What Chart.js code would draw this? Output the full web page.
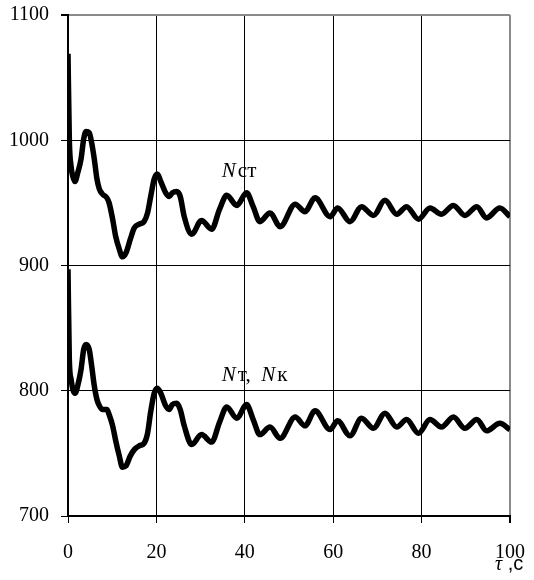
<!DOCTYPE html>
<html><head><meta charset="utf-8">
<script src="https://cdn.jsdelivr.net/npm/chart.js@4/dist/chart.umd.min.js"></script>
<style>html,body{margin:0;padding:0;background:#fff}#wrap{width:534px;height:580px}</style>
</head><body><div id="wrap"><canvas id="c" width="534" height="580"></canvas></div>
<script>
// time, s
const tau = [0, 0.3, 0.7, 1.1, 1.6, 2.2, 2.95, 3.55, 4.1, 4.8, 5.35, 5.95, 6.55, 7.1, 7.8, 8.8, 9.3, 10.1, 10.8, 11.6, 12.3, 13.1, 14.1, 15.0, 16.1, 17.2, 18.0, 18.7, 19.5, 20.2, 21.0, 22.1, 22.9, 23.6, 24.6, 25.4, 26.3, 28.0, 30.2, 32.5, 34.3, 35.9, 38.2, 40.4, 41.9, 43.4, 45.7, 48.0, 51.4, 53.6, 55.9, 59.3, 61.0, 63.8, 66.4, 69.1, 71.7, 74.4, 76.6, 79.3, 81.9, 84.5, 87.2, 89.8, 92.5, 94.7, 97.7, 100];
// N ст
const nSt = [1069, 1001, 979, 971, 967, 974, 985, 1001, 1007, 1006, 998, 985, 969, 961, 957, 954, 950, 937, 923, 913, 907, 910, 921, 930, 933, 935, 942, 955, 969, 973, 967, 958, 955, 958, 959, 955, 939, 925, 936, 929, 945, 956, 948, 958, 947, 935, 942, 931, 949, 943, 954, 939, 946, 935, 947, 940, 952, 941, 947, 937, 946, 941, 948, 940, 947, 938, 946, 939];
// N т, N к
const nTK = [897, 825, 809, 801, 798, 804, 817, 833, 837, 833, 820, 804, 793, 788, 785, 785, 781, 772, 760, 748, 739, 740, 748, 753, 756, 758, 766, 783, 798, 802, 798, 788, 785, 789, 790, 785, 772, 757, 765, 759, 775, 787, 778, 789, 777, 765, 771, 762, 779, 772, 784, 769, 776, 764, 778, 770, 782, 771, 777, 766, 777, 771, 779, 770, 777, 768, 774, 769];
const xTicks = [0, 20, 40, 60, 80, 100];
const yTicks = [700, 800, 900, 1000, 1100];
const curveLabels = [
  {tau: 34.8, value: 971, parts: [['N', 'italic'], ['ст', 'normal']]},
  {tau: 34.8, value: 807.5, parts: [['N', 'italic'], ['т,  ', 'normal'], ['N', 'italic'], ['к', 'normal']]}
];
const axisTitle = [['τ', 'italic 20px "Liberation Serif"'], [' ,с', '20px "Liberation Sans"']];

const serif = '"Liberation Serif", "Times New Roman", serif';

const textPlugin = {
  id: 'texts',
  afterDatasetsDraw(chart) {
    const ctx = chart.ctx, xs = chart.scales.x, ys = chart.scales.y;
    ctx.save();
    ctx.fillStyle = '#000';
    ctx.textBaseline = 'alphabetic';
    ctx.textAlign = 'left';
    curveLabels.forEach(l => {
      let x = xs.getPixelForValue(l.tau);
      const y = ys.getPixelForValue(l.value);
      l.parts.forEach(([t, st]) => {
        ctx.font = (st === 'italic' ? 'italic ' : '') + '21px ' + serif;
        ctx.fillText(t, x, y);
        x += ctx.measureText(t).width + (st === 'italic' ? 2 : 0);
      });
    });
    // axis title
    let x = xs.getPixelForValue(100) - 15;
    const y = chart.height - 10;
    axisTitle.forEach(([t, f]) => {
      ctx.font = f;
      ctx.fillText(t, x, y);
      x += ctx.measureText(t).width;
    });
    ctx.restore();
  }
};

new Chart(document.getElementById('c'), {
  type: 'line',
  data: {
    datasets: [
      {label: 'Nст', data: tau.map((t, i) => ({x: t, y: nSt[i]})), borderColor: '#000', borderWidth: 5.5, pointRadius: 0, cubicInterpolationMode: 'monotone', fill: false},
      {label: 'Nт, Nк', data: tau.map((t, i) => ({x: t, y: nTK[i]})), borderColor: '#000', borderWidth: 5.5, pointRadius: 0, cubicInterpolationMode: 'monotone', fill: false}
    ]
  },
  options: {
    responsive: false,
    animation: false,
    devicePixelRatio: 1,
    layout: {padding: {left: 0, top: 15, right: 24, bottom: 0}},
    plugins: {legend: {display: false}, tooltip: {enabled: false}},
    scales: {
      x: {
        type: 'linear', min: 0, max: 100,
        afterBuildTicks: s => { s.ticks = xTicks.map(v => ({value: v})); },
        afterFit: s => { s.height = 64; s.paddingLeft = 0; s.paddingRight = 0; },
        grid: {
          color: c => (c.tick && c.tick.value === 100) ? '#8a8a8a' : '#000',
          lineWidth: c => (c.tick && c.tick.value === 100) ? 2 : 1,
          tickColor: '#000', tickLength: 7, drawTicks: true
        },
        border: {color: '#000', width: 2},
        ticks: {color: '#000', font: {family: serif, size: 20}, padding: 18, maxRotation: 0, callback: v => String(v)}
      },
      y: {
        type: 'linear', min: 700, max: 1100,
        afterBuildTicks: s => { s.ticks = yTicks.map(v => ({value: v})); },
        afterFit: s => { s.width = 68; s.paddingTop = 0; s.paddingBottom = 0; },
        grid: {
          color: c => (c.tick && c.tick.value === 1100) ? '#8a8a8a' : '#000',
          lineWidth: c => (c.tick && c.tick.value === 1100) ? 2 : 1,
          tickColor: '#000', tickLength: 7, drawTicks: true
        },
        border: {color: '#000', width: 2},
        ticks: {color: '#000', font: {family: serif, size: 20}, padding: 12, callback: v => String(v)}
      }
    }
  },
  plugins: [textPlugin]
});
</script>
</body></html>
